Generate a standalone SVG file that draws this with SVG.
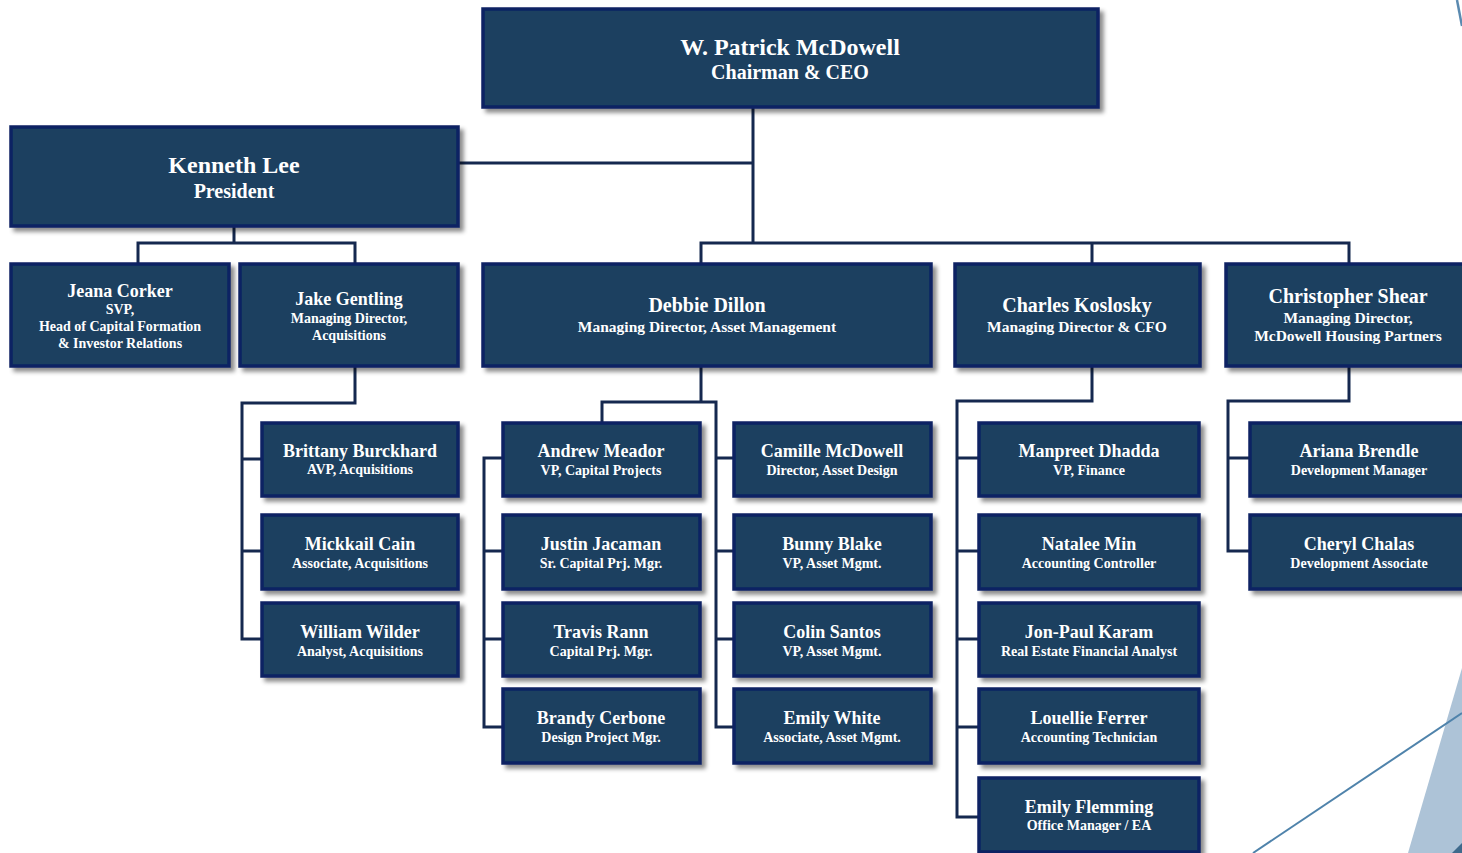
<svg xmlns="http://www.w3.org/2000/svg" width="1462" height="853" viewBox="0 0 1462 853">
<defs>
<filter id="sh" x="-10%" y="-10%" width="130%" height="140%">
<feDropShadow dx="4" dy="4" stdDeviation="2.2" flood-color="#000" flood-opacity="0.45"/>
</filter>
<style>
.box{fill:#1a3f60;stroke:#0c2463;stroke-width:3.5;filter:url(#sh)}
.t{font-family:"Liberation Serif","Times New Roman",serif;font-weight:bold;fill:#fff;text-anchor:middle}
.n1{font-size:24px}.t1{font-size:20px}
.n2{font-size:20px}.t2{font-size:15.5px}
.n3{font-size:18px}.t3{font-size:14px}
.c{fill:none;stroke:#15284f;stroke-width:3;stroke-linecap:square}
</style>
</defs>
<rect width="1462" height="853" fill="#fff"/>
<g id="decor">
<polygon points="1462,668 1408,853 1462,853" fill="#adc3d7"/>
<polygon points="1462,843 1452,853 1462,853" fill="#3f6a8c"/>
<line x1="1253" y1="853" x2="1462" y2="713" stroke="#4f83ab" stroke-width="2"/>
<line x1="1457" y1="0" x2="1462" y2="26" stroke="#5a8ab0" stroke-width="2.5"/>
</g>
<g id="connectors">
<path class="c" d="M753,107 V243 M458,163 H753 M701,243 H1349 M701,243 V264 M1092,243 V264 M1349,243 V264"/>
<path class="c" d="M234,226 V243 M138,243 H355 M138,243 V264 M355,243 V264"/>
<path class="c" d="M355,366 V403 H242 V639 M242,459 H262 M242,551 H262 M242,639 H262"/>
<path class="c" d="M701,366 V402 M602,402 H716 M602,402 V423 M716,402 V727 M716,458 H734 M716,551 H734 M716,639 H734 M716,727 H734"/>
<path class="c" d="M484,458 V727 M484,458 H503 M484,551 H503 M484,639 H503 M484,727 H503"/>
<path class="c" d="M1092,366 V401 H957 V817 M957,458 H979 M957,551 H979 M957,639 H979 M957,727 H979 M957,817 H979"/>
<path class="c" d="M1349,366 V401 H1228 V551 M1228,458 H1250 M1228,551 H1250"/>
</g>
<g id="ceo"><rect class="box" x="483" y="9" width="615" height="98"/>
<text class="t n1" x="790" y="55">W. Patrick McDowell</text><text class="t t1" x="790" y="79">Chairman &amp; CEO</text></g>
<g id="kenneth"><rect class="box" x="11" y="127" width="447" height="99"/>
<text class="t n1" x="234" y="173">Kenneth Lee</text><text class="t t1" x="234" y="198">President</text></g>
<g id="jeana"><rect class="box" x="11" y="264" width="218" height="102"/>
<text class="t n3" x="120" y="297">Jeana Corker</text><text class="t t3" x="120" y="314">SVP,</text><text class="t t3" x="120" y="331">Head of Capital Formation</text><text class="t t3" x="120" y="348">&amp; Investor Relations</text></g>
<g id="jake"><rect class="box" x="240" y="264" width="218" height="102"/>
<text class="t n3" x="349" y="305">Jake Gentling</text><text class="t t3" x="349" y="323">Managing Director,</text><text class="t t3" x="349" y="340">Acquisitions</text></g>
<g id="debbie"><rect class="box" x="483" y="264" width="448" height="102"/>
<text class="t n2" x="707" y="312">Debbie Dillon</text><text class="t t2" x="707" y="332">Managing Director, Asset Management</text></g>
<g id="charles"><rect class="box" x="955" y="264" width="245" height="102"/>
<text class="t n2" x="1077" y="312">Charles Koslosky</text><text class="t t2" x="1077" y="332">Managing Director &amp; CFO</text></g>
<g id="christopher"><rect class="box" x="1226" y="264" width="246" height="102"/>
<text class="t n2" x="1348" y="303">Christopher Shear</text><text class="t t2" x="1348" y="323">Managing Director,</text><text class="t t2" x="1348" y="341">McDowell Housing Partners</text></g>
<g id="brittany"><rect class="box" x="262" y="423" width="196" height="73"/>
<text class="t n3" x="360" y="457">Brittany Burckhard</text><text class="t t3" x="360" y="474">AVP, Acquisitions</text></g>
<g id="mickkail"><rect class="box" x="262" y="515" width="196" height="74"/>
<text class="t n3" x="360" y="550">Mickkail Cain</text><text class="t t3" x="360" y="568">Associate, Acquisitions</text></g>
<g id="william"><rect class="box" x="262" y="603" width="196" height="73"/>
<text class="t n3" x="360" y="638">William Wilder</text><text class="t t3" x="360" y="656">Analyst, Acquisitions</text></g>
<g id="andrew"><rect class="box" x="503" y="423" width="197" height="73"/>
<text class="t n3" x="601" y="457">Andrew Meador</text><text class="t t3" x="601" y="475">VP, Capital Projects</text></g>
<g id="justin"><rect class="box" x="503" y="515" width="197" height="74"/>
<text class="t n3" x="601" y="550">Justin Jacaman</text><text class="t t3" x="601" y="568">Sr. Capital Prj. Mgr.</text></g>
<g id="travis"><rect class="box" x="503" y="603" width="197" height="73"/>
<text class="t n3" x="601" y="638">Travis Rann</text><text class="t t3" x="601" y="656">Capital Prj. Mgr.</text></g>
<g id="brandy"><rect class="box" x="503" y="689" width="197" height="74"/>
<text class="t n3" x="601" y="724">Brandy Cerbone</text><text class="t t3" x="601" y="742">Design Project Mgr.</text></g>
<g id="camille"><rect class="box" x="734" y="423" width="197" height="73"/>
<text class="t n3" x="832" y="457">Camille McDowell</text><text class="t t3" x="832" y="475">Director, Asset Design</text></g>
<g id="bunny"><rect class="box" x="734" y="515" width="197" height="74"/>
<text class="t n3" x="832" y="550">Bunny Blake</text><text class="t t3" x="832" y="568">VP, Asset Mgmt.</text></g>
<g id="colin"><rect class="box" x="734" y="603" width="197" height="73"/>
<text class="t n3" x="832" y="638">Colin Santos</text><text class="t t3" x="832" y="656">VP, Asset Mgmt.</text></g>
<g id="emilyw"><rect class="box" x="734" y="689" width="197" height="74"/>
<text class="t n3" x="832" y="724">Emily White</text><text class="t t3" x="832" y="742">Associate, Asset Mgmt.</text></g>
<g id="manpreet"><rect class="box" x="979" y="423" width="220" height="73"/>
<text class="t n3" x="1089" y="457">Manpreet Dhadda</text><text class="t t3" x="1089" y="475">VP, Finance</text></g>
<g id="natalee"><rect class="box" x="979" y="515" width="220" height="74"/>
<text class="t n3" x="1089" y="550">Natalee Min</text><text class="t t3" x="1089" y="568">Accounting Controller</text></g>
<g id="jonpaul"><rect class="box" x="979" y="603" width="220" height="73"/>
<text class="t n3" x="1089" y="638">Jon-Paul Karam</text><text class="t t3" x="1089" y="656">Real Estate Financial Analyst</text></g>
<g id="louellie"><rect class="box" x="979" y="689" width="220" height="74"/>
<text class="t n3" x="1089" y="724">Louellie Ferrer</text><text class="t t3" x="1089" y="742">Accounting Technician</text></g>
<g id="emilyf"><rect class="box" x="979" y="778" width="220" height="74"/>
<text class="t n3" x="1089" y="813">Emily Flemming</text><text class="t t3" x="1089" y="830">Office Manager / EA</text></g>
<g id="ariana"><rect class="box" x="1250" y="423" width="222" height="73"/>
<text class="t n3" x="1359" y="457">Ariana Brendle</text><text class="t t3" x="1359" y="475">Development Manager</text></g>
<g id="cheryl"><rect class="box" x="1250" y="515" width="222" height="74"/>
<text class="t n3" x="1359" y="550">Cheryl Chalas</text><text class="t t3" x="1359" y="568">Development Associate</text></g>
</svg>
